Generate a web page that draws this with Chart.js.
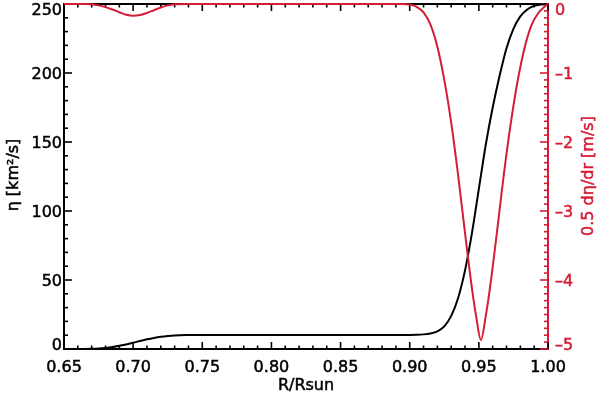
<!DOCTYPE html>
<html>
<head>
<meta charset="utf-8">
<script src="https://cdn.jsdelivr.net/npm/chart.js@4.4.1/dist/chart.umd.min.js"></script>
<style>
  html, body { margin: 0; padding: 0; background: #fff; }
  canvas { display: block; }
</style>
</head>
<body>
<canvas id="grafico" width="600" height="395"></canvas>
<script>
// eta(r)
const etaR = [0.650, 0.660, 0.670, 0.675, 0.680, 0.685, 0.690, 0.695, 0.700, 0.705, 0.710, 0.715, 0.720, 0.725, 0.730, 0.740, 0.750, 0.800, 0.850, 0.900, 0.905, 0.910, 0.915, 0.920, 0.925, 0.930, 0.935, 0.940, 0.945, 0.950, 0.955, 0.960, 0.965, 0.970, 0.975, 0.980, 0.985, 0.990, 0.995, 1.000];
const etaVal = [0, 0.05, 0.2, 0.4, 0.8, 1.4, 2.3, 3.3, 4.5, 5.8, 7.0, 8.0, 8.8, 9.4, 9.8, 10.1, 10.2, 10.2, 10.2, 10.2, 10.3, 10.6, 11.3, 12.8, 16.4, 24, 37, 57, 84, 116, 148, 175, 198, 218, 232, 241, 246, 248.7, 249.6, 250];

// 0.5 d(eta)/dr
const derR = [0.650, 0.665, 0.670, 0.675, 0.680, 0.685, 0.690, 0.695, 0.700, 0.705, 0.710, 0.715, 0.720, 0.725, 0.730, 0.740, 0.800, 0.890, 0.895, 0.900, 0.905, 0.910, 0.915, 0.920, 0.925, 0.930, 0.935, 0.940, 0.945, 0.948, 0.9515, 0.955, 0.958, 0.963, 0.968, 0.973, 0.978, 0.983, 0.988, 0.993, 0.998, 1.000];
const derVal = [0, 0, -0.005, -0.02, -0.045, -0.08, -0.12, -0.155, -0.17, -0.16, -0.13, -0.09, -0.05, -0.02, -0.005, 0, 0, 0, 0, -0.01, -0.04, -0.12, -0.30, -0.62, -1.10, -1.72, -2.48, -3.32, -4.12, -4.52, -4.87, -4.52, -4.12, -3.32, -2.48, -1.74, -1.12, -0.64, -0.31, -0.13, -0.03, 0];

const xTicks = [0.65, 0.70, 0.75, 0.80, 0.85, 0.90, 0.95, 1.00];
const leftTicks = [0, 50, 100, 150, 200, 250];
const rightTicks = [0, -1, -2, -3, -4, -5];

const RED = 'rgb(214,28,52)';
const FONT = '16px "DejaVu Sans"';

function pairs(xs, ys) {
    return xs.map((x, i) => ({ x: x, y: ys[i] }));
}

// slightly heavier text, like the IDL vector font
function label(ctx, txt, x, y) {
    ctx.fillText(txt, x, y);
    ctx.strokeText(txt, x, y);
}

// IDL style axes: inward major/minor ticks, labels pushed inside at the ends
const idlAxes = {
    id: 'idlAxes',
    beforeDatasetsDraw(chart) {
        const { ctx, chartArea: a, scales } = chart;
        ctx.save();
        ctx.lineWidth = 2;
        ctx.strokeStyle = '#000';
        ctx.beginPath();
        ctx.moveTo(a.left - 1, a.top);
        ctx.lineTo(a.right, a.top);
        ctx.stroke();

        const line = (x1, y1, x2, y2) => {
            ctx.beginPath();
            ctx.moveTo(x1, y1);
            ctx.lineTo(x2, y2);
            ctx.stroke();
        };
        const eachTick = (ticks, minor, fn) => {
            for (let i = 0; i < ticks.length; i++) {
                fn(ticks[i], true);
                if (i < ticks.length - 1) {
                    const step = (ticks[i + 1] - ticks[i]) / minor;
                    for (let k = 1; k < minor; k++) fn(ticks[i] + k * step, false);
                }
            }
        };

        ctx.lineWidth = 1.6;
        ctx.strokeStyle = '#000';
        eachTick(xTicks, 5, (v, major) => {
            const p = scales.x.getPixelForValue(v);
            const len = major ? 7 : 3.5;
            line(p, a.bottom, p, a.bottom - len);
            line(p, a.top, p, a.top + len);
        });
        eachTick(leftTicks, 5, (v, major) => {
            const p = scales.y.getPixelForValue(v);
            line(a.left, p, a.left + (major ? 8 : 4), p);
        });
        ctx.strokeStyle = RED;
        eachTick(rightTicks, 10, (v, major) => {
            const p = scales.y2.getPixelForValue(v);
            line(a.right, p, a.right - (major ? 8 : 4), p);
        });
        ctx.restore();
    },
    afterDraw(chart) {
        const { ctx, chartArea: a, scales } = chart;
        const clampY = p => Math.min(Math.max(p, a.top + 5), a.bottom - 4.5);
        ctx.save();
        ctx.font = FONT;
        ctx.textBaseline = 'alphabetic';
        ctx.lineWidth = 0.5;

        ctx.fillStyle = '#000';
        ctx.strokeStyle = '#000';
        ctx.textAlign = 'center';
        xTicks.forEach(v => label(ctx, v.toFixed(2), scales.x.getPixelForValue(v), 372));
        label(ctx, 'R/Rsun', (a.left + a.right) / 2, 390);

        ctx.textAlign = 'right';
        leftTicks.forEach(v => {
            label(ctx, String(v), 62, clampY(scales.y.getPixelForValue(v)) + 5.8);
        });

        ctx.fillStyle = RED;
        ctx.strokeStyle = RED;
        ctx.textAlign = 'left';
        rightTicks.forEach(v => {
            const txt = v < 0 ? '\u2013' + (-v) : '0';
            label(ctx, txt, 555, clampY(scales.y2.getPixelForValue(v)) + 5.8);
        });

        ctx.textAlign = 'center';
        ctx.save();
        ctx.translate(18, 175);
        ctx.rotate(-Math.PI / 2);
        ctx.fillStyle = '#000';
        ctx.strokeStyle = '#000';
        label(ctx, '\u03b7 [km\u00b2/s]', 0, 0);
        ctx.restore();

        ctx.save();
        ctx.translate(593, 176);
        ctx.rotate(-Math.PI / 2);
        label(ctx, '0.5 d\u03b7/dr [m/s]', 0, 0);
        ctx.restore();
        ctx.restore();
    }
};

const ctx = document.getElementById('grafico').getContext('2d');

new Chart(ctx, {
    type: 'line',
    data: {
        datasets: [
            {
                data: pairs(derR, derVal),
                yAxisID: 'y2',
                borderColor: RED,
                borderWidth: 2,
                pointRadius: 0,
                cubicInterpolationMode: 'monotone',
                clip: false
            },
            {
                data: pairs(etaR, etaVal),
                yAxisID: 'y',
                borderColor: '#000',
                borderWidth: 2,
                pointRadius: 0,
                cubicInterpolationMode: 'monotone',
                clip: false
            }
        ]
    },
    options: {
        responsive: false,
        animation: false,
        devicePixelRatio: 1,
        layout: { padding: { top: 4, left: 0, right: 0, bottom: 0 } },
        plugins: {
            legend: { display: false },
            tooltip: { enabled: false }
        },
        scales: {
            x: {
                type: 'linear',
                min: 0.65,
                max: 1.0,
                afterFit: s => { s.height = 46; },
                ticks: { display: false },
                grid: { drawOnChartArea: false, drawTicks: false },
                border: { display: true, color: '#000', width: 2 }
            },
            y: {
                position: 'left',
                min: 0,
                max: 250,
                afterFit: s => { s.width = 64; },
                ticks: { display: false },
                grid: { drawOnChartArea: false, drawTicks: false },
                border: { display: true, color: '#000', width: 2 }
            },
            y2: {
                position: 'right',
                min: -5,
                max: 0,
                afterFit: s => { s.width = 52; },
                ticks: { display: false },
                grid: { drawOnChartArea: false, drawTicks: false },
                border: { display: true, color: RED, width: 2 }
            }
        }
    },
    plugins: [idlAxes]
});
</script>
</body>
</html>
